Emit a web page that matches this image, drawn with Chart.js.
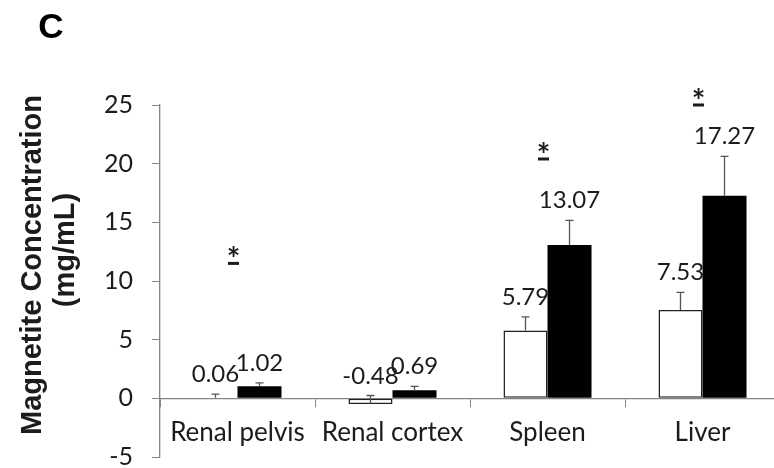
<!DOCTYPE html>
<html lang="en">
<head>
  <meta charset="UTF-8" />
  <title>Magnetite Concentration</title>
  <script src="https://cdn.jsdelivr.net/npm/chart.js"></script>
  <style>
    body {
      margin: 0;
      background: #fff;
      overflow: hidden;
    }

    .wrap {
      position: relative;
      width: 774px;
      height: 468px;
      overflow: hidden;
    }

    .wrap canvas {
      position: absolute;
      left: 0;
      top: 0;
    }
  </style>
</head>
<body>

  <div class="wrap"><canvas id="chart" width="800" height="500"></canvas></div>

  <script>
    const tissues = ['Renal pelvis', 'Renal cortex', 'Spleen', 'Liver'];
    const controlMeans = [0.06, -0.48, 5.79, 7.53];
    const controlErr = [0.30, 0.72, 1.15, 1.50];
    const treatedMeans = [1.02, 0.69, 13.07, 17.27];
    const treatedErr = [0.30, 0.33, 2.10, 3.35];
    // height of the underlined asterisk for significant pairs
    const sigMarks = [11.5, null, 20.4, 25.0];
    const yTicks = [-5, 0, 5, 10, 15, 20, 25];

    const axisGray = '#858585';
    const textColor = '#1c1c1c';

    // error bars, value labels, significance marks and the panel titles
    const annotations = {
      id: 'annotations',
      afterDatasetsDraw(chart) {
        const { ctx, scales: { x, y } } = chart;
        const series = [[controlMeans, controlErr], [treatedMeans, treatedErr]];

        ctx.save();
        series.forEach(([means, errs], di) => {
          chart.getDatasetMeta(di).data.forEach((bar, i) => {
            const base = y.getPixelForValue(means[i]);
            const top = y.getPixelForValue(means[i] + errs[i]);
            ctx.strokeStyle = '#555';
            ctx.lineWidth = 1.3;
            ctx.beginPath();
            ctx.moveTo(bar.x, base);
            ctx.lineTo(bar.x, top);
            ctx.moveTo(bar.x - 4, top);
            ctx.lineTo(bar.x + 4, top);
            ctx.stroke();

            ctx.fillStyle = textColor;
            ctx.font = '24px Lato';
            ctx.textAlign = 'center';
            ctx.textBaseline = 'alphabetic';
            ctx.fillText(means[i].toFixed(2), bar.x, top - 12);
          });
        });

        sigMarks.forEach((v, i) => {
          if (v === null) return;
          const cx = x.getPixelForValue(i) - 4;
          const cy = y.getPixelForValue(v);
          ctx.fillStyle = textColor;
          ctx.font = 'bold 32px Lato';
          ctx.textAlign = 'center';
          ctx.textBaseline = 'alphabetic';
          ctx.fillText('*', cx, cy + 8);
          ctx.fillRect(cx - 5.5, cy - 1.5, 11, 3);
        });
        ctx.restore();
      },
      afterDraw(chart) {
        const { ctx } = chart;
        ctx.save();
        ctx.fillStyle = '#000';
        ctx.font = 'bold 35px "Liberation Sans"';
        ctx.textAlign = 'center';
        ctx.textBaseline = 'alphabetic';
        ctx.fillText('C', 51, 38);

        ctx.fillStyle = textColor;
        ctx.font = 'bold 29px "Liberation Sans"';
        ctx.textBaseline = 'middle';
        ctx.save();
        ctx.translate(33, 265);
        ctx.rotate(-Math.PI / 2);
        ctx.fillText('Magnetite Concentration', 0, 0);
        ctx.restore();
        ctx.save();
        ctx.translate(66, 250);
        ctx.rotate(-Math.PI / 2);
        ctx.fillText('(mg/mL)', 0, 0);
        ctx.restore();
        ctx.restore();
      }
    };

    const ctx = document.getElementById('chart').getContext('2d');
    new Chart(ctx, {
      type: 'bar',
      data: {
        labels: tissues,
        datasets: [
          {
            label: 'Control',
            data: controlMeans,
            backgroundColor: '#fff',
            borderColor: '#222',
            borderWidth: 1.5,
            borderSkipped: false
          },
          {
            label: 'Treated',
            data: treatedMeans,
            backgroundColor: '#000',
            borderWidth: 0
          }
        ]
      },
      options: {
        responsive: false,
        animation: false,
        barPercentage: 1,
        categoryPercentage: 0.568,
        layout: { padding: { left: 0, right: 20, top: 105, bottom: 43 } },
        plugins: {
          legend: { display: false },
          tooltip: { enabled: false }
        },
        scales: {
          x: {
            position: { y: 0 },
            grid: { offset: true, drawOnChartArea: false, tickLength: 8, color: axisGray },
            border: { color: axisGray, width: 1.3 },
            ticks: { font: { family: 'Lato', size: 26 }, color: textColor, padding: 11 }
          },
          y: {
            min: -5,
            max: 25,
            afterFit: s => { s.width = 160; },
            afterBuildTicks: s => { s.ticks = yTicks.map(v => ({ value: v })); },
            grid: { drawOnChartArea: false, tickLength: 8, color: axisGray },
            border: { color: axisGray, width: 1.3 },
            ticks: { font: { family: 'Lato', size: 25 }, color: textColor, padding: 19 }
          }
        }
      },
      plugins: [annotations]
    });
  </script>

</body>
</html>
